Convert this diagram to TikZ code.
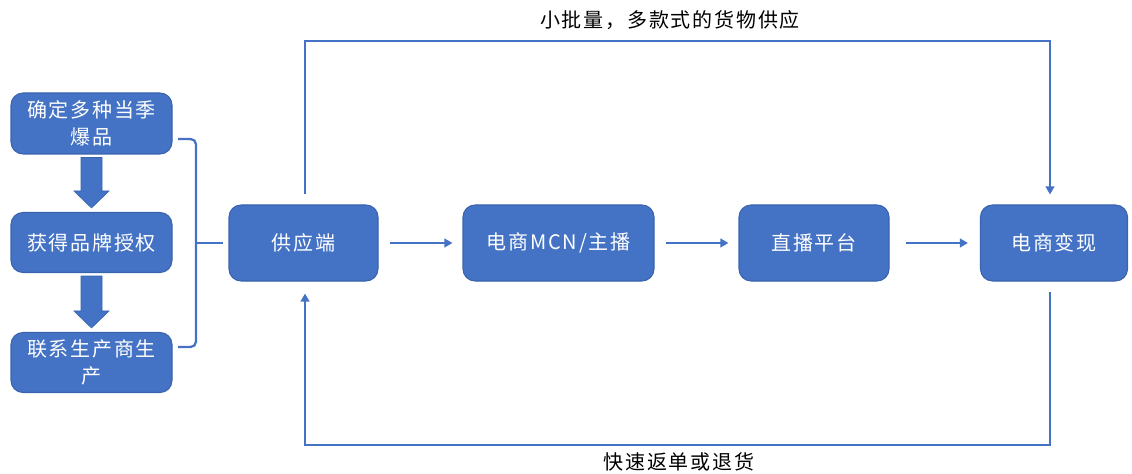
\documentclass[tikz,border=0pt]{standalone}
\usepackage{fontspec}
\setmainfont[LetterSpace=9]{Noto Sans CJK SC}
\usetikzlibrary{arrows.meta,calc}
\definecolor{boxblue}{HTML}{4472C4}
\definecolor{boxedge}{HTML}{3A63AE}
\begin{document}
\begin{tikzpicture}[x=0.75pt,y=-0.75pt,
  box/.style={draw=boxedge,line width=0.8pt,fill=boxblue,rounded corners=9pt,
    text=white,align=center,inner sep=0pt,font=\fontsize{15}{20}\selectfont},
  flow/.style={draw=boxblue,line width=1.7pt},
  tip/.style={-{Triangle[length=6pt,width=6.5pt]}},
  lbl/.style={font=\fontsize{15}{18}\selectfont,text=black,inner sep=0pt}]
\useasboundingbox (0,0) rectangle (1132,474);
% left column
\node[box,minimum width=120.75pt,minimum height=45.75pt] (b1) at (91.5,123.5) {确定多种当季\\爆品};
\node[box,minimum width=120.75pt,minimum height=45pt] (b2) at (91.5,242.5) {获得品牌授权};
\node[box,minimum width=120.75pt,minimum height=45pt] (b3) at (91.5,362.5) {联系生产商生\\产};
% main row
\node[box,minimum width=111.75pt,minimum height=57pt] (sup) at (303.5,243) {供应端};
\node[box,minimum width=143.25pt,minimum height=57pt] (mcn) at (558.5,243) {电商MCN/主播};
\node[box,minimum width=112.5pt,minimum height=57pt] (plat) at (814,243) {直播平台};
\node[box,minimum width=110.25pt,minimum height=57pt] (cash) at (1054,243) {电商变现};
% block arrows
\foreach \a/\b in {b1/b2,b2/b3}{
  \path ($(\a.south)+(0,3)$) coordinate (s) ($(\b.north)+(0,-4)$) coordinate (e);
  \fill[boxblue,draw=boxedge,line width=0.5pt]
    ($(s)+(-10.5,0)$) -- ($(s)+(10.5,0)$) -- ($(e)+(10.5,-17)$) -- ($(e)+(17.5,-17)$)
    -- (e) -- ($(e)+(-17.5,-17)$) -- ($(e)+(-10.5,-17)$) -- cycle;
}
% bracket
\coordinate (bt) at (178,139);
\coordinate (bb) at (178,347);
\coordinate (bm) at (196,243);
\draw[flow,rounded corners=4pt] (bt) -- (196,139) -- (196,347) -- (bb);
\draw[flow] (bm) -- ($(sup.west)+(-5,0)$);
% horizontal flow
\draw[flow,tip,shorten <=11pt*0.75,shorten >=10pt*0.75] (sup.east) -- (mcn.west);
\draw[flow,tip,shorten <=11pt*0.75,shorten >=10pt*0.75] (mcn.east) -- (plat.west);
\draw[flow,tip,shorten <=16pt*0.75,shorten >=12pt*0.75] (plat.east) -- (cash.west);
% top loop
\coordinate (t1) at ($(sup.north)+(1.5,-10)$);
\coordinate (t2) at ($(cash.north)+(-4,-10)$);
\draw[flow,tip] (t1) -- (t1 |- 0,41) -- (t2 |- 0,41) -- (t2);
\node[lbl] (toplbl) at (670,20) {小批量，多款式的货物供应};
% bottom loop
\coordinate (u1) at ($(cash.south)+(-4,10)$);
\coordinate (u2) at ($(sup.south)+(1.5,12)$);
\draw[flow,tip] (u1) -- (u1 |- 0,445) -- (u2 |- 0,445) -- (u2);
\node[lbl] (botlbl) at (679,462) {快速返单或退货};
\end{tikzpicture}
\end{document}
